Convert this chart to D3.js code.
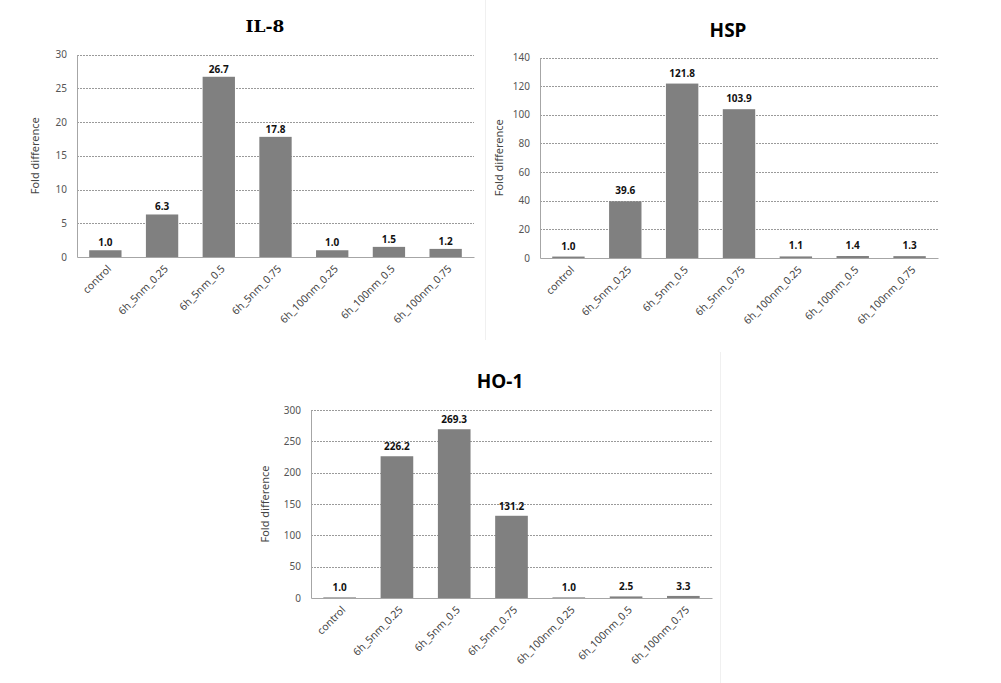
<!DOCTYPE html>
<html><head><meta charset="utf-8">
<script src="https://cdn.jsdelivr.net/npm/d3@7"></script>
<style>
body{margin:0;background:#fff;}
svg{display:block;}
text{font-family:"Noto Sans","Open Sans",sans-serif;}
</style></head>
<body>
<svg id="c" width="1001" height="683"></svg>
<script>
const categories = ["control","6h_5nm_0.25","6h_5nm_0.5","6h_5nm_0.75","6h_100nm_0.25","6h_100nm_0.5","6h_100nm_0.75"];
const il8Values = [1.0, 6.3, 26.7, 17.8, 1.0, 1.5, 1.2];
const hspValues = [1.0, 39.6, 121.8, 103.9, 1.1, 1.4, 1.3];
const ho1Values = [1.0, 226.2, 269.3, 131.2, 1.0, 2.5, 3.3];
const il8Ticks = [0,5,10,15,20,25,30];
const hspTicks = [0,20,40,60,80,100,120,140];
const ho1Ticks = [0,50,100,150,200,250,300];
const titles = ["IL-8","HSP","HO-1"];
const yLabel = "Fold difference";

const svg = d3.select("#c");

// faint panel borders
svg.append("line").attr("x1",485.5).attr("x2",485.5).attr("y1",0).attr("y2",340).attr("stroke","#f0f0f0");
svg.append("line").attr("x1",720.5).attr("x2",720.5).attr("y1",352).attr("y2",683).attr("stroke","#f0f0f0");

function drawChart(cfg){
  const {x0,x1,y0,y1,values,ticks,title,titleX,titleY,titleFont,titleSize,yLabX,labelOffset} = cfg;
  const g = svg.append("g");
  const x = d3.scaleBand().domain(categories).range([x0,x1]).paddingInner(0.43).paddingOuter(0.215);
  const y = d3.scaleLinear().domain([0,d3.max(ticks)]).range([y1,y0]);

  // gridlines
  g.selectAll(".grid").data(ticks.filter(t=>t>0)).join("line")
    .attr("x1",x0).attr("x2",x1)
    .attr("y1",d=>Math.round(y(d))+0.5).attr("y2",d=>Math.round(y(d))+0.5)
    .attr("stroke","#9a9a9a").attr("stroke-width",1).attr("stroke-dasharray","2,1");

  // y axis
  const ya = g.append("g").attr("transform",`translate(${x0},0)`)
    .call(d3.axisLeft(y).tickValues(ticks).tickSize(0).tickPadding(10));
  ya.select(".domain").attr("stroke","#a6a6a6");
  ya.selectAll("text").attr("fill","#555").style("font-size","10px");

  // bars
  g.selectAll(".bar").data(values).join("rect")
    .attr("x",(d,i)=>x(categories[i])).attr("width",x.bandwidth())
    .attr("y",d=>y(d)).attr("height",d=>y(0)-y(d))
    .attr("fill","#808080");

  // x axis
  const xa = g.append("g").attr("transform",`translate(0,${y1})`)
    .call(d3.axisBottom(x).tickSize(0).tickSizeOuter(0).tickFormat(""));
  xa.select(".domain").attr("stroke","#a6a6a6");

  // x labels rotated
  g.selectAll(".xl").data(categories).join("text")
    .attr("transform",d=>`translate(${x(d)+x.bandwidth()/2+4},${y1+10}) rotate(-45)`)
    .attr("text-anchor","end").attr("dy","0.35em")
    .attr("fill","#444").style("font-size","10.5px").text(d=>d);

  // data labels
  g.selectAll(".vl").data(values).join("text")
    .attr("x",(d,i)=>x(categories[i])+x.bandwidth()/2)
    .attr("y",d=>y(d)-labelOffset)
    .attr("text-anchor","middle").attr("fill","#111")
    .style("font-size","10px").style("font-weight","bold")
    .text(d=>d.toFixed(1));

  // y label
  g.append("text").attr("transform",`translate(${yLabX},${(y0+y1)/2}) rotate(-90)`)
    .attr("text-anchor","middle").attr("fill","#444").style("font-size","11px").text(yLabel);

  // title
  g.append("text").attr("x",titleX).attr("y",titleY).attr("text-anchor","middle")
    .attr("fill","#000").style("font-size",titleSize).style("font-weight","bold")
    .style("font-family",titleFont).text(title);
}

drawChart({x0:77,x1:474,y0:54.5,y1:257,values:il8Values,ticks:il8Ticks,title:titles[0],titleX:265,titleY:32,titleFont:"'DejaVu Serif',serif",titleSize:"17px",yLabX:39,labelOffset:4});
drawChart({x0:540,x1:938,y0:57.5,y1:258,values:hspValues,ticks:hspTicks,title:titles[1],titleX:728,titleY:37,titleFont:"'Noto Sans',sans-serif",titleSize:"19px",yLabX:503,labelOffset:7});
drawChart({x0:311,x1:712,y0:410,y1:598,values:ho1Values,ticks:ho1Ticks,title:titles[2],titleX:500,titleY:388,titleFont:"'Noto Sans',sans-serif",titleSize:"19px",yLabX:269,labelOffset:6});
</script>
</body></html>
